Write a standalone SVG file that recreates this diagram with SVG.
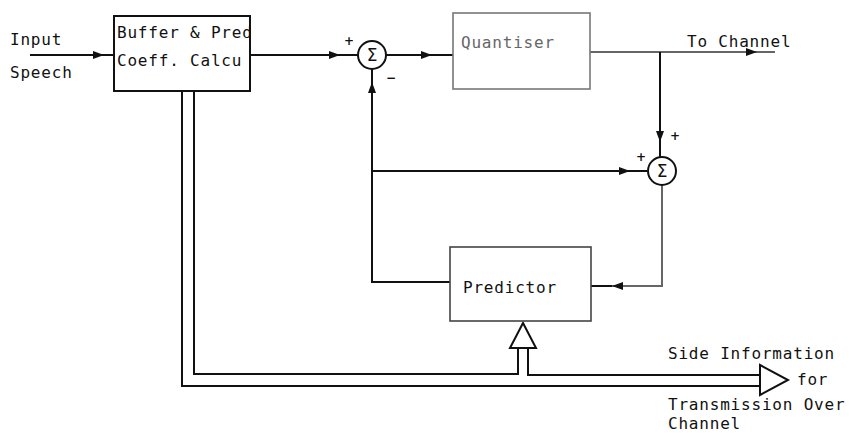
<svg xmlns="http://www.w3.org/2000/svg" width="849" height="435" viewBox="0 0 849 435">
<style>
text{font-family:"DejaVu Sans Mono","Liberation Mono",monospace;font-size:16px;letter-spacing:0.8px;fill:#111}
.ln{fill:none;stroke:#111;stroke-width:2}
.gl{fill:none;stroke:#666;stroke-width:2}
.box{fill:#fff;stroke:#111;stroke-width:2}
.gbox{fill:#fff;stroke:#777;stroke-width:1.6}
.sig{font-family:"DejaVu Sans",sans-serif;font-size:12px;font-weight:bold;letter-spacing:0}
.sum{font-family:"DejaVu Sans",sans-serif;font-size:17px;letter-spacing:0;text-anchor:middle}
</style>
<defs>
<marker id="ah" markerUnits="userSpaceOnUse" markerWidth="12" markerHeight="10" refX="11" refY="4" orient="auto">
<path d="M0,0 L11,4 L0,8 z" fill="#111"/>
</marker>
</defs>
<g id="connectors">
<line class="ln" x1="30" y1="55" x2="104" y2="55" marker-end="url(#ah)"/>
<line class="ln" x1="104" y1="55" x2="114" y2="55"/>
<line class="ln" x1="250" y1="55" x2="340" y2="55" marker-end="url(#ah)"/>
<line class="ln" x1="340" y1="55" x2="358" y2="55"/>
<line class="ln" x1="386" y1="55" x2="432" y2="55" marker-end="url(#ah)"/>
<line class="ln" x1="432" y1="55" x2="453" y2="55"/>
<line class="gl" x1="590" y1="52" x2="757" y2="52" marker-end="url(#ah)"/>
<line class="gl" x1="757" y1="52" x2="775" y2="52"/>
<line class="ln" x1="660" y1="52" x2="660" y2="142" marker-end="url(#ah)"/>
<line class="ln" x1="660" y1="142" x2="660" y2="157"/>
<polyline class="ln" points="450,282 372,282 372,82" marker-end="url(#ah)"/>
<line class="ln" x1="372" y1="82" x2="372" y2="69"/>
<line class="ln" x1="372" y1="171" x2="630" y2="171" marker-end="url(#ah)"/>
<line class="ln" x1="630" y1="171" x2="647" y2="171"/>
<polyline class="gl" points="662,185 662,286 612,286" marker-end="url(#ah)"/>
<line class="ln" x1="612" y1="286" x2="591" y2="286"/>
<path class="ln" d="M194,91 V374 H518 V348"/>
<path class="ln" d="M528,348 V375 H760"/>
<path class="ln" d="M182,91 V386 H760"/>
<polygon class="box" points="523,323 510,348 536,348"/>
<polygon class="box" points="760,365 788,380 760,395"/>
</g>
<g id="input">
<text x="10" y="45">Input</text>
<text x="10" y="78">Speech</text>
</g>
<g id="buffer">
<rect class="box" x="114" y="16" width="136" height="75"/>
<text x="117" y="38">Buffer &amp; Pred</text>
<text x="117" y="66">Coeff. Calcu</text>
</g>
<g id="sum1">
<circle class="box" cx="372" cy="55" r="14"/>
<text class="sum" x="372" y="61">Σ</text>
<text class="sig" x="344" y="45">+</text>
<text class="sig" x="386" y="82">−</text>
</g>
<g id="quantiser">
<rect class="gbox" x="453" y="13" width="137" height="76"/>
<text x="461" y="48" style="fill:#666">Quantiser</text>
</g>
<g id="to-channel">
<text x="687" y="47">To Channel</text>
</g>
<g id="sum2">
<circle class="box" cx="662" cy="171" r="14"/>
<text class="sum" x="662" y="177">Σ</text>
<text class="sig" x="670" y="140">+</text>
<text class="sig" x="636" y="161">+</text>
</g>
<g id="predictor">
<rect class="gbox" x="450" y="247" width="141" height="74" style="stroke:#444"/>
<text x="463" y="293">Predictor</text>
</g>
<g id="side-info">
<text x="668" y="359">Side Information</text>
<text x="797" y="385">for</text>
<text x="668" y="410">Transmission Over</text>
<text x="668" y="429">Channel</text>
</g>
</svg>
